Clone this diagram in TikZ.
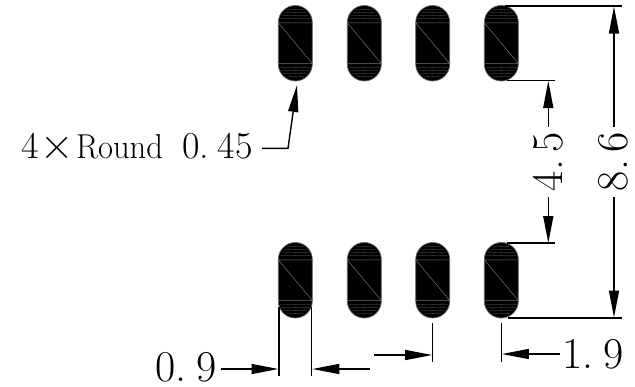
\documentclass[tikz,border=0pt]{standalone}
\usetikzlibrary{arrows.meta}
\tikzset{
  dimline/.style={line width=1.4pt,black},
  dimarrow/.style={line width=1.4pt,black,-{Triangle[length=27pt,width=10pt]}},
  padbody/.style={fill=black,draw=black!60,line width=.7pt},
  padmark/.style={draw=black!55,line width=.5pt},
  padwave/.style={draw=black!78,line width=.6pt},
  dimtext/.style={inner sep=0pt,outer sep=0pt,font=\fontsize{44}{46}\selectfont},
  labeltext/.style={inner sep=0pt,outer sep=0pt,font=\fontsize{38}{40}\selectfont}
}
\newcommand{\padshape}[2]{%
  % #1 = left x, #2 = top y
  \begin{scope}[shift={(#1,#2)}]
    \path[padbody] (0,17) arc[start angle=180,end angle=360,radius=17] -- (34,58.5)
       arc[start angle=0,end angle=180,radius=17] -- cycle;
    \draw[padmark] (0,17.3) -- (34,17.3) (0,58) -- (34,58) (0,17.3) -- (34,58);
    \foreach \yy/\xa/\xb in {4/9/25,7/6/28,10/4/30,13/2/32}{
      \draw[padwave] (\xa,\yy) .. controls (\xa+6,\yy-.9) and (\xb-6,\yy+.9) .. (\xb,\yy);
    }
    \foreach \yy/\xa/\xb in {62/2/32,65/3/31,68/5/29,71/9/25}{
      \draw[padwave] (\xa,\yy) .. controls (\xa+6,\yy+.9) and (\xb-6,\yy-.9) .. (\xb,\yy);
    }
  \end{scope}}
\begin{document}
\begin{tikzpicture}[x=1pt,y=-1pt]
\useasboundingbox (0,0) rectangle (635,386);
% pads
\foreach \px in {278.3,347.3,415.7,484.3}{
  \padshape{\px}{5.5}
  \padshape{\px}{242.5}
}
% coordinates
\coordinate (t1a) at (505,6);   \coordinate (t1b) at (622,6);
\coordinate (t2a) at (507,80.5); \coordinate (t2b) at (555,80.5);
\coordinate (b1a) at (507,243); \coordinate (b1b) at (555,243);
\coordinate (b2a) at (508,318); \coordinate (b2b) at (622,318);
\draw[dimline] (t1a) -- (t1b);
\draw[dimline] (t2a) -- (t2b);
\draw[dimline] (b1a) -- (b1b);
\draw[dimline] (b2a) -- (b2b);
% 4.5
\coordinate (a45t) at (548.3,126.5); \coordinate (a45ttip) at (548.3,81);
\coordinate (a45b) at (548.3,197);   \coordinate (a45btip) at (548.3,243);
\draw[dimarrow] (a45t) -- (a45ttip);
\draw[dimarrow] (a45b) -- (a45btip);
% 8.6
\coordinate (a86t) at (614,126.5); \coordinate (a86ttip) at (614,6.5);
\coordinate (a86b) at (614,197);   \coordinate (a86btip) at (614,317.5);
\draw[dimarrow] (a86t) -- (a86ttip);
\draw[dimarrow] (a86b) -- (a86btip);
\node[dimtext,rotate=90,anchor=base west] (t45) at (562,191) {4.\hspace{7pt}5};
\node[dimtext,rotate=90,anchor=base west] (t86) at (627.7,191) {8.\hspace{7pt}6};
% bottom extension lines
\coordinate (e1a) at (279,307); \coordinate (e1b) at (279,376);
\coordinate (e2a) at (311.7,307); \coordinate (e2b) at (311.7,376);
\coordinate (e3a) at (432.7,323); \coordinate (e3b) at (432.7,362);
\coordinate (e4a) at (501.3,323); \coordinate (e4b) at (501.3,362);
\draw[dimline] (e1a) -- (e1b);
\draw[dimline] (e2a) -- (e2b);
\draw[dimline] (e3a) -- (e3b);
\draw[dimline] (e4a) -- (e4b);
% horizontal arrows
\coordinate (h1s) at (220.7,369); \coordinate (h1e) at (278.5,369);
\coordinate (h2s) at (370,369);   \coordinate (h2e) at (312.3,369);
\coordinate (h3s) at (374,355);   \coordinate (h3e) at (432.2,355);
\coordinate (h4s) at (560,354);   \coordinate (h4e) at (501.9,354);
\draw[dimarrow] (h1s) -- (h1e);
\draw[dimarrow] (h2s) -- (h2e);
\draw[dimarrow] (h3s) -- (h3e);
\draw[dimarrow] (h4s) -- (h4e);
\node[dimtext,anchor=base west] (t09) at (155,381.5) {0.\hspace{10pt}9};
\node[dimtext,anchor=base west] (t19) at (562,368) {1.\hspace{10pt}9};
% leader
\node[labeltext,anchor=base west] (lab) at (21,158)
  {\makebox[20pt][l]{4}\makebox[35pt][l]{\raisebox{-1.5pt}{\scalebox{1.22}{×}}}\makebox[106pt][l]{\resizebox{87pt}{24pt}{Round}}\makebox[36pt][l]{0.}45};
\coordinate (l1) at (262,148.3); \coordinate (l2) at (288,148.3); \coordinate (l3) at (297,85);
\draw[line width=1.4pt,black,-{Triangle[length=27pt,width=10pt]}] (l1) -- (l2) -- (l3);
\end{tikzpicture}
\end{document}
